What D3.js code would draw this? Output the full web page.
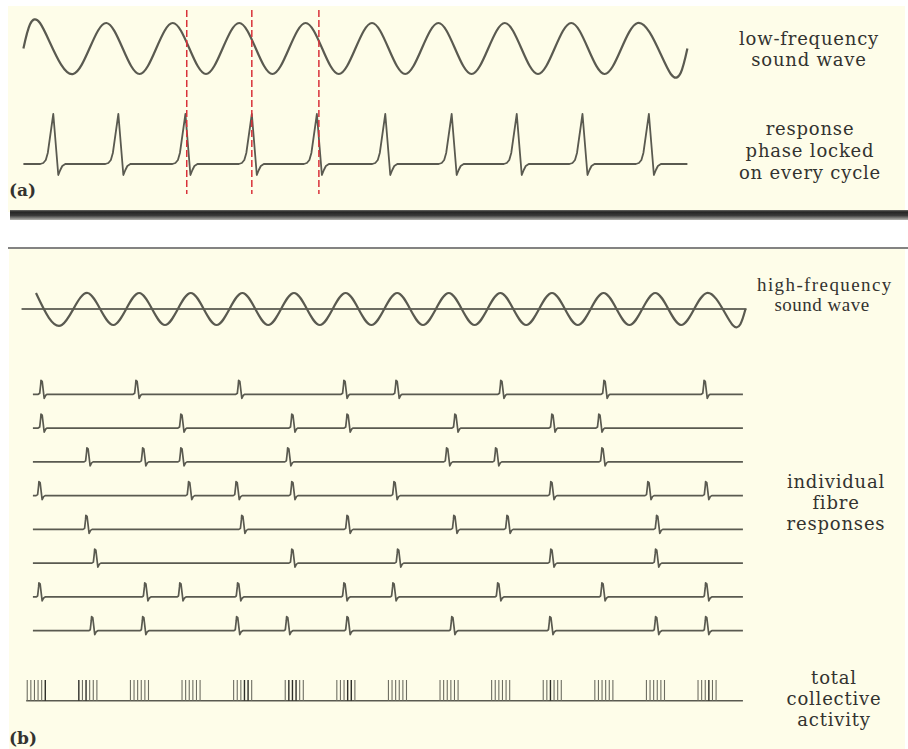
<!DOCTYPE html>
<html>
<head>
<meta charset="utf-8">
<script src="https://cdn.jsdelivr.net/npm/d3@7"></script>
<style>
  html, body { margin: 0; padding: 0; background: #ffffff; }
  svg { display: block; }
</style>
</head>
<body>
<script>
// ---------- data ----------
// (a) low-frequency tone: [time in cycles, normalised pressure]
const lowWave = [[-0.25,0],[0,1],[0.5,-1],[1,1],[1.5,-1],[2,1],[2.5,-1],[3,1],[3.5,-1],[4,1],[4.5,-1],
  [5,1],[5.5,-1],[6,1],[6.5,-1],[7,1],[7.5,-1],[8,1],[8.5,-1],[9,1],[9.5,-1],[9.75,0]];
// (a) spike times of the phase-locked response (cycles)
const lowSpikes = [0.20, 1.18, 2.19, 3.19, 4.17, 5.20, 6.20, 7.18, 8.17, 9.17];
// (a) dashed markers showing the lock between wave and spikes (cycles)
const lockMarkers = [2.21, 3.19, 4.20];

// (b) high-frequency tone: [time in cycles, normalised pressure]
const highWave = [[0,1],[0.5,-1],[1,1],[1.5,-1],[2,1],[2.5,-1],[3,1],[3.5,-1],[4,1],[4.5,-1],[5,1],[5.5,-1],
  [6,1],[6.5,-1],[7,1],[7.5,-1],[8,1],[8.5,-1],[9,1],[9.5,-1],[10,1],[10.5,-1],[11,1],[11.5,-1],
  [12,1],[12.5,-1],[13,1],[13.5,-1],[13.75,0]];
// (b) spike times of the individual fibres (cycles of the high tone)
const fibres = ["fibre 1","fibre 2","fibre 3","fibre 4","fibre 5","fibre 6","fibre 7","fibre 8"];
const fibreSpikes = [
  [0.12, 1.96, 3.95, 5.99, 7.00, 9.03, 11.03, 12.97],
  [0.12, 2.83, 4.98, 6.05, 8.14, 10.02, 10.93],
  [1.01, 2.09, 2.83, 4.90, 7.98, 8.93, 10.99],
  [0.08, 2.98, 3.90, 4.98, 6.96, 10.00, 11.88, 13.00],
  [0.99, 4.01, 6.05, 8.12, 9.15, 12.05],
  [1.16, 4.98, 7.03, 10.00, 12.03],
  [0.08, 2.13, 2.81, 3.93, 5.99, 6.94, 8.97, 10.99, 13.00],
  [1.10, 2.09, 3.91, 4.88, 6.05, 8.08, 9.98, 12.03, 13.00]
];
// (b) summed activity: one burst per cycle, made of several closely spaced spikes
const burstCycles = [0,1,2,3,4,5,6,7,8,9,10,11,12,13];
const burstTickOffsets = [-0.17, -0.10, -0.03, 0.04, 0.11, 0.18];
const burstStrong = [[5],[0,2],[],[],[3,4],[1,2,3],[3,4],[],[],[],[2],[],[],[3]];

// labels
const labelsLowWave = ["low-frequency", "sound wave"];
const labelsLocked = ["response", "phase locked", "on every cycle"];
const labelsHighWave = ["high-frequency", "sound wave"];
const labelsFibres = ["individual", "fibre", "responses"];
const labelsTotal = ["total", "collective", "activity"];

// ---------- layout ----------
const W = 908, H = 749;
const cream = "#fefde9";
const ink = "#5a5a50";
const textInk = "#333330";

const svg = d3.select("body").append("svg")
  .attr("width", W).attr("height", H)
  .attr("viewBox", `0 0 ${W} ${H}`);

const defs = svg.append("defs");
const grad = defs.append("linearGradient").attr("id", "barShade")
  .attr("x1", 0).attr("y1", 0).attr("x2", 0).attr("y2", 1);
grad.append("stop").attr("offset", "0%").attr("stop-color", "#6a6a66");
grad.append("stop").attr("offset", "20%").attr("stop-color", "#242424");
grad.append("stop").attr("offset", "55%").attr("stop-color", "#3a3a3a");
grad.append("stop").attr("offset", "100%").attr("stop-color", "#b4b4b0");

// panel backgrounds and separators
svg.append("rect").attr("x", 8).attr("y", 6).attr("width", 897).attr("height", 206).attr("fill", cream);
svg.append("rect").attr("x", 10).attr("y", 210).attr("width", W - 10).attr("height", 10).attr("fill", "url(#barShade)");
svg.append("rect").attr("x", 9).attr("y", 249).attr("width", 896).attr("height", H - 249).attr("fill", cream);
svg.append("line").attr("x1", 8).attr("x2", W).attr("y1", 248).attr("y2", 248)
  .attr("stroke", "#5a5a58").attr("stroke-width", 1.6);

// ---------- panel (a) ----------
const xA = d3.scaleLinear().domain([-0.25, 9.75]).range([23.4, 687.4]);
const yA = d3.scaleLinear().domain([-1, 1]).range([74, 23]);
const baseA = 164;

const gA = svg.append("g");

gA.append("path")
  .datum(lowWave)
  .attr("d", d3.line().x(d => xA(d[0])).y(d => yA(d[1])).curve(d3.curveNatural))
  .attr("fill", "none").attr("stroke", ink).attr("stroke-width", 2.2);

// action-potential glyph (pixel offsets from the spike peak)
const spikeShapeA = [[-13,0],[-10,-1],[-7.5,-4],[-5.5,-11],[0,-50],[5,11],[7,6],[9,2],[12,0]];
const respPts = [[xA(-0.25), baseA]];
lowSpikes.forEach(t => spikeShapeA.forEach(p => respPts.push([xA(t) + p[0], baseA + p[1]])));
respPts.push([xA(9.75), baseA]);
gA.append("path")
  .attr("d", d3.line()(respPts))
  .attr("fill", "none").attr("stroke", ink).attr("stroke-width", 1.8)
  .attr("stroke-linejoin", "round");

gA.selectAll("line.lock")
  .data(lockMarkers)
  .join("line").attr("class", "lock")
  .attr("x1", d => xA(d)).attr("x2", d => xA(d))
  .attr("y1", 10).attr("y2", 194)
  .attr("stroke", "#d8323a").attr("stroke-width", 1.5)
  .attr("stroke-dasharray", "7,3");

const serifWide = "'DejaVu Serif', serif";
const serifNarrow = "'Liberation Serif', 'Times New Roman', serif";

function stack(lines, cx, y0, dy, font, size, spacing) {
  svg.append("g").selectAll("text")
    .data(lines)
    .join("text")
    .attr("x", cx).attr("y", (d, i) => y0 + i * dy)
    .attr("text-anchor", "middle")
    .attr("font-family", font).attr("font-size", size)
    .attr("letter-spacing", spacing || 0)
    .attr("fill", textInk)
    .text(d => d);
}

stack(labelsLowWave, 809, 45, 21, serifWide, 18, 0.8);
stack(labelsLocked, 810, 135, 22, serifWide, 18, 0.8);

svg.append("text").attr("x", 9).attr("y", 196)
  .attr("font-family", serifWide).attr("font-size", 17).attr("font-weight", "bold")
  .attr("fill", textInk).text("(a)");

// ---------- panel (b) ----------
const xB = d3.scaleLinear().domain([0, 13.75]).range([36, 745.5]);
const yB = d3.scaleLinear().domain([-1, 1]).range([325, 293]);
const gB = svg.append("g");

gB.append("line")
  .attr("x1", xB(-0.28)).attr("x2", xB(13.77))
  .attr("y1", yB(0)).attr("y2", yB(0))
  .attr("stroke", "#3c3c36").attr("stroke-width", 1.6);

gB.append("path")
  .datum(highWave)
  .attr("d", d3.line().x(d => xB(d[0])).y(d => yB(d[1])).curve(d3.curveNatural))
  .attr("fill", "none").attr("stroke", ink).attr("stroke-width", 2.2);

// individual fibres
const yRow = d3.scalePoint().domain(fibres).range([394.3, 630.7]);
const spikeShapeB = [[-4,0],[-2.5,-1],[-1.5,-10],[-1.2,-14],[0,-13],[2,4],[3.5,1],[5,0]];

fibres.forEach((f, i) => {
  const y = yRow(f);
  const pts = [[xB(-0.06), y]];
  fibreSpikes[i].forEach(t => spikeShapeB.forEach(p => pts.push([xB(t) + p[0], y + p[1]])));
  pts.push([xB(13.70), y]);
  gB.append("path")
    .attr("d", d3.line()(pts))
    .attr("fill", "none").attr("stroke", ink).attr("stroke-width", 1.7)
    .attr("stroke-linejoin", "round");
});

// total collective activity
const yTot = d3.scaleLinear().domain([0, 1]).range([700.7, 680]);
gB.append("line")
  .attr("x1", xB(-0.19)).attr("x2", xB(13.70))
  .attr("y1", yTot(0)).attr("y2", yTot(0))
  .attr("stroke", ink).attr("stroke-width", 1.6);

const ticks = [];
burstCycles.forEach((c, bi) => burstTickOffsets.forEach((o, k) =>
  ticks.push({ t: c + o, strong: burstStrong[bi].includes(k) })));
gB.selectAll("line.burst")
  .data(ticks)
  .join("line").attr("class", "burst")
  .attr("x1", d => xB(d.t)).attr("x2", d => xB(d.t))
  .attr("y1", yTot(0)).attr("y2", yTot(1))
  .attr("stroke", d => d.strong ? "#2e2e28" : "#6e6e62")
  .attr("stroke-width", d => d.strong ? 1.4 : 1.1);

svg.append("g").selectAll("text")
  .data(labelsHighWave)
  .join("text")
  .attr("x", (d, i) => i === 0 ? 757 : 822)
  .attr("y", (d, i) => 291 + i * 20)
  .attr("text-anchor", (d, i) => i === 0 ? "start" : "middle")
  .attr("font-family", serifNarrow).attr("font-size", 19)
  .attr("letter-spacing", (d, i) => i === 0 ? 1.4 : 0.5)
  .attr("fill", textInk)
  .text(d => d);

stack(labelsFibres, 836, 488, 21, serifWide, 18, 0.8);
stack(labelsTotal, 834, 684, 21, serifWide, 18, 0.8);

svg.append("text").attr("x", 9).attr("y", 744)
  .attr("font-family", serifWide).attr("font-size", 17).attr("font-weight", "bold")
  .attr("fill", textInk).text("(b)");
</script>
</body>
</html>
